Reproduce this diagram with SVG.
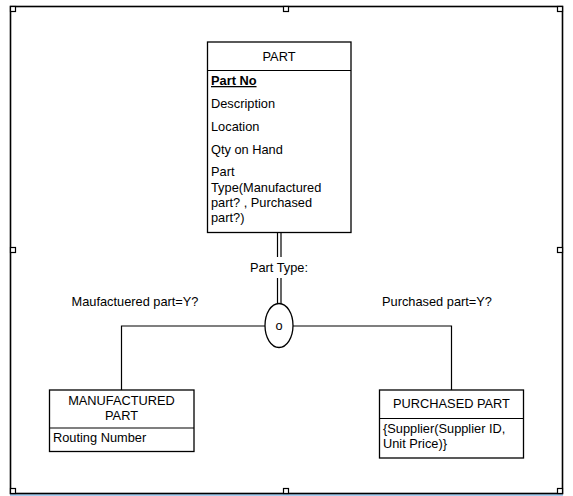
<svg xmlns="http://www.w3.org/2000/svg" width="573" height="496" viewBox="0 0 573 496">
<style>
text{font-family:"Liberation Sans",Arial,sans-serif;font-size:12.8px;fill:#000}
.c{text-anchor:middle}
.box{fill:#fff;stroke:#000;stroke-width:1.3}
.ln{fill:none;stroke:#000;stroke-width:1.2}
.frame{fill:none;stroke:#000;stroke-width:1.6}
.h{fill:#fff;stroke:#000;stroke-width:1.2}
</style>
<rect width="573" height="496" fill="#fff"/>
<g id="frame">
<rect x="10" y="494" width="553" height="2.5" fill="#a6cdf0"/>
<rect class="frame" x="10.5" y="6.5" width="552" height="487"/>
<rect class="h" x="10.5" y="6.5" width="5" height="5"/>
<rect class="h" x="283.5" y="6.5" width="5" height="5"/>
<rect class="h" x="557.5" y="6.5" width="5" height="5"/>
<rect class="h" x="10.5" y="247.5" width="5" height="5"/>
<rect class="h" x="557.5" y="247.5" width="5" height="5"/>
<rect class="h" x="10.5" y="488.5" width="5" height="5"/>
<rect class="h" x="283.5" y="488.5" width="5" height="5"/>
<rect class="h" x="557.5" y="488.5" width="5" height="5"/>
</g>
<g id="connectors">
<line class="ln" x1="277.5" y1="232" x2="277.5" y2="304"/>
<line class="ln" x1="281" y1="232" x2="281" y2="304"/>
<polyline class="ln" points="265,326 121.5,326 121.5,390"/>
<polyline class="ln" points="293,326 451.5,326 451.5,390"/>
<rect x="247" y="257" width="64" height="21" fill="#fff"/>
<text class="c" x="279" y="272">Part Type:</text>
<text class="c" x="135" y="306">Maufactuered part=Y?</text>
<text class="c" x="437" y="306">Purchased part=Y?</text>
</g>
<g id="disjoint">
<ellipse class="box" cx="279" cy="325.5" rx="14" ry="22"/>
<text class="c" x="279" y="330">o</text>
</g>
<g id="part">
<rect class="box" x="207.5" y="42" width="143.5" height="190.5"/>
<line class="ln" x1="207.5" y1="70.5" x2="351" y2="70.5"/>
<text class="c" x="279" y="61">PART</text>
<text x="211" y="85" font-weight="bold" text-decoration="underline">Part No</text>
<text x="211" y="108">Description</text>
<text x="211" y="131">Location</text>
<text x="211" y="154">Qty on Hand</text>
<text x="211" y="176">Part</text>
<text x="211" y="191.5">Type(Manufactured</text>
<text x="211" y="206.5">part? , Purchased</text>
<text x="211" y="221.5">part?)</text>
</g>
<g id="manufactured">
<rect class="box" x="49.5" y="390" width="144.5" height="61.5"/>
<line class="ln" x1="49.5" y1="428" x2="194" y2="428"/>
<text class="c" x="121.5" y="405">MANUFACTURED</text>
<text class="c" x="121.5" y="420">PART</text>
<text x="53" y="442">Routing Number</text>
</g>
<g id="purchased">
<rect class="box" x="379.5" y="390" width="144" height="68"/>
<line class="ln" x1="379.5" y1="418.5" x2="523.5" y2="418.5"/>
<text class="c" x="451.5" y="408">PURCHASED PART</text>
<text x="383" y="433">{Supplier(Supplier ID,</text>
<text x="383" y="448">Unit Price)}</text>
</g>
</svg>
